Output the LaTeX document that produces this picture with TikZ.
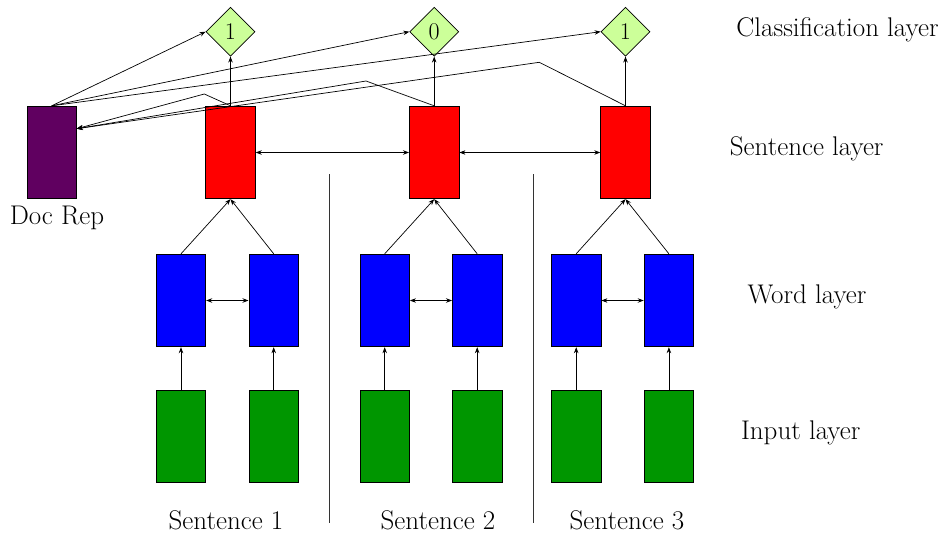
\documentclass[tikz,border=0pt]{standalone}
\usetikzlibrary{shapes.geometric,arrows.meta}
\definecolor{docpurple}{RGB}{96,0,96}
\definecolor{sentred}{RGB}{255,0,0}
\definecolor{wordblue}{RGB}{0,0,255}
\definecolor{inputgreen}{RGB}{0,150,0}
\definecolor{classgreen}{RGB}{204,255,153}
\begin{document}
\begin{tikzpicture}[x=1pt,y=-1pt,
  font=\fontsize{27}{32}\selectfont,
  box/.style={draw=black,line width=0.9pt,minimum width=49.5pt,minimum height=92.5pt,inner sep=0pt},
  docbox/.style={box,fill=docpurple},
  sentbox/.style={box,fill=sentred},
  wordbox/.style={box,fill=wordblue},
  inbox/.style={box,fill=inputgreen},
  classbox/.style={draw=black,line width=0.7pt,diamond,aspect=1,minimum size=49pt,inner sep=0pt,fill=classgreen,font=\fontsize{24}{28}\selectfont},
  conn/.style={line width=0.7pt,-{Stealth[length=6pt,width=4.5pt]}},
  biconn/.style={line width=0.7pt,{Stealth[length=6pt,width=4.5pt]}-{Stealth[length=6pt,width=4.5pt]}},
  sep/.style={line width=0.6pt,draw=black!80},
  lbl/.style={anchor=base,inner sep=0pt}]
\useasboundingbox (0,0) rectangle (945,533);

% document representation
\node[docbox] (doc) at (51.7,152.5) {};
\node[lbl] (doclbl) at (57,224.3) {Doc Rep};

% sentence layer
\node[sentbox] (s1) at (230.5,152.5) {};
\node[sentbox] (s2) at (434.2,152.5) {};
\node[sentbox] (s3) at (625.5,152.5) {};

% classification layer
\node[classbox] (c1) at (230.5,31.7) {1};
\node[classbox] (c2) at (434.2,31.7) {0};
\node[classbox] (c3) at (625.5,31.7) {1};

% word layer
\node[wordbox] (w1) at (181,300.5) {};
\node[wordbox] (w2) at (273.7,300.5) {};
\node[wordbox] (w3) at (384.7,300.5) {};
\node[wordbox] (w4) at (477.2,300.5) {};
\node[wordbox] (w5) at (576.2,300.5) {};
\node[wordbox] (w6) at (668.9,300.5) {};

% input layer
\node[inbox] (i1) at (181,436.2) {};
\node[inbox] (i2) at (273.7,436.2) {};
\node[inbox] (i3) at (384.7,436.2) {};
\node[inbox] (i4) at (477.2,436.2) {};
\node[inbox] (i5) at (576.2,436.2) {};
\node[inbox] (i6) at (668.9,436.2) {};

% layer labels
\node[lbl] (lclass) at (837.5,36) {Classification layer};
\node[lbl] (lsent) at (806.7,155) {Sentence layer};
\node[lbl] (lword) at (807,303.3) {Word layer};
\node[lbl] (linput) at (800.7,439.3) {Input layer};

% sentence labels
\node[lbl] (t1) at (226,529) {Sentence 1};
\node[lbl] (t2) at (438,529) {Sentence 2};
\node[lbl] (t3) at (627,529) {Sentence 3};

% separators
\coordinate (sepa1) at (329.5,174);
\coordinate (sepa2) at (329.5,523);
\coordinate (sepb1) at (533,174);
\coordinate (sepb2) at (533,523);
\draw[sep] (sepa1) -- (sepa2);
\draw[sep] (sepb1) -- (sepb2);

% input -> word
\foreach \k in {1,...,6} {\draw[conn] (i\k.north) -- (w\k.south);}

% word <-> word
\draw[biconn] (w1.east) -- (w2.west);
\draw[biconn] (w3.east) -- (w4.west);
\draw[biconn] (w5.east) -- (w6.west);

% word -> sentence
\draw[conn] (w1.north) -- (s1.south);
\draw[conn] (w2.north) -- (s1.south);
\draw[conn] (w3.north) -- (s2.south);
\draw[conn] (w4.north) -- (s2.south);
\draw[conn] (w5.north) -- (s3.south);
\draw[conn] (w6.north) -- (s3.south);

% sentence <-> sentence
\draw[biconn] (s1.east) -- (s2.west);
\draw[biconn] (s2.east) -- (s3.west);

% sentence -> classification
\draw[conn] (s1.north) -- (c1.south);
\draw[conn] (s2.north) -- (c2.south);
\draw[conn] (s3.north) -- (c3.south);

% document -> classification
\draw[conn] (doc.north) -- (c1.west);
\draw[conn] (doc.north) -- (c2.west);
\draw[conn] (doc.north) -- (c3.west);

% sentence -> document
\coordinate (din) at (76.7,128.7);
\coordinate (k1) at (204.3,94);
\coordinate (k2) at (366,81);
\coordinate (k3) at (539.3,62.3);
\draw[conn] (s1.north) -- (k1) -- (din);
\draw[conn] (s2.north) -- (k2) -- (din);
\draw[conn] (s3.north) -- (k3) -- (din);
\end{tikzpicture}
\end{document}
